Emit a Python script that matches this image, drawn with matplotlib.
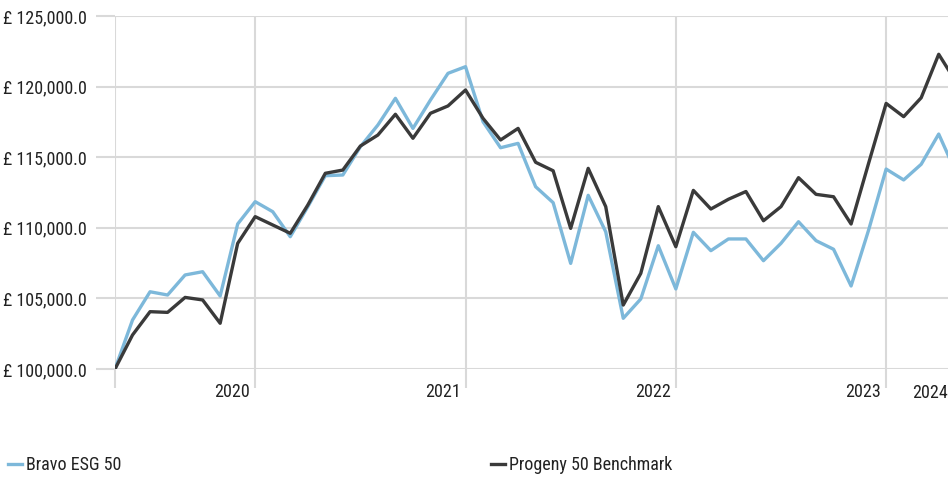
import matplotlib
matplotlib.use("Agg")
import matplotlib.pyplot as plt
import matplotlib.transforms as mtransforms
from matplotlib.ticker import FuncFormatter

plt.rcParams['font.family'] = ['Roboto Condensed', 'DejaVu Sans']

# monthly values, May 2019 .. May 2023
bravo = [100000, 103470, 105470, 105240, 106660, 106890, 105170, 110270,
         111850, 111140, 109370, 111490, 113690, 113740, 115740, 117280,
         119170, 117040, 119050, 120940, 121410, 117510, 115670, 115980,
         112910, 111780, 107480, 112300, 109720, 103590, 104960, 108730,
         105670, 109680, 108380, 109210, 109210, 107670, 108900, 110430,
         109090, 108480, 105880, 109840, 114160, 113390, 114500, 116640,
         113870]
progeny = [100000, 102410, 104060, 104010, 105070, 104890, 103240, 108900,
           110790, 110200, 109610, 111610, 113860, 114090, 115790, 116570,
           118040, 116340, 118110, 118630, 119760, 117750, 116220, 117040,
           114640, 114040, 109960, 114210, 111500, 104530, 106770, 111500,
           108660, 112650, 111330, 112020, 112570, 110500, 111500, 113550,
           112370, 112200, 110270, 114570, 118810, 117870, 119210, 122290,
           120310]
year_ticks = [8, 20, 32, 44]
year_labels = ['2020', '2021', '2022', '2023']
y_ticks = [100000, 105000, 110000, 115000, 120000, 125000]

fs = 13
txt_col = '#222222'
fig = plt.figure(figsize=(9.48, 4.79), dpi=100)
ax = fig.add_axes([115 / 948, 1 - 369 / 479, 1 - 115 / 948, (369 - 16) / 479])

months = list(range(len(bravo)))
l1, = ax.plot(months, bravo, color='#7db8da', lw=2.4, label='Bravo ESG 50', zorder=3)
l2, = ax.plot(months, progeny, color='#3a3a3a', lw=2.4, label='Progeny 50 Benchmark', zorder=4)

ax.set_xlim(0, 47.53)
ax.set_ylim(100000, 125000)
ax.set_yticks(y_ticks)
ax.yaxis.set_major_formatter(FuncFormatter(lambda v, p: '£ {:,.1f}'.format(v)))
ax.set_xticks([0] + year_ticks)
ax.set_xticklabels([''] + year_labels)

grid = '#d9d9d9'
ax.grid(True, color=grid, lw=1.5)
ax.set_axisbelow(True)
for s in ax.spines.values():
    s.set_visible(False)
ax.tick_params(axis='both', length=14, width=1.5, color=grid, labelsize=fs,
               labelcolor=txt_col)
ax.tick_params(axis='x', pad=-4)
ax.tick_params(axis='y', pad=6)

offset = mtransforms.ScaledTranslation(-5 / 100, 0, fig.dpi_scale_trans)
for lab in ax.get_xticklabels():
    lab.set_horizontalalignment('right')
    lab.set_transform(lab.get_transform() + offset)

ax.text(1.0, -15 / 353, '2024', transform=ax.transAxes, ha='right', va='top',
        fontsize=fs, color=txt_col)

for h, x0 in [(l1, 8), (l2, 491)]:
    fig.legend(handles=[h], loc='center left', bbox_to_anchor=(x0 / 948, 1 - 465 / 479),
               frameon=False, fontsize=fs, handlelength=0.8, handletextpad=0.2,
               borderpad=0, borderaxespad=0, labelcolor=txt_col)

fig.savefig('out.png', dpi=100)
